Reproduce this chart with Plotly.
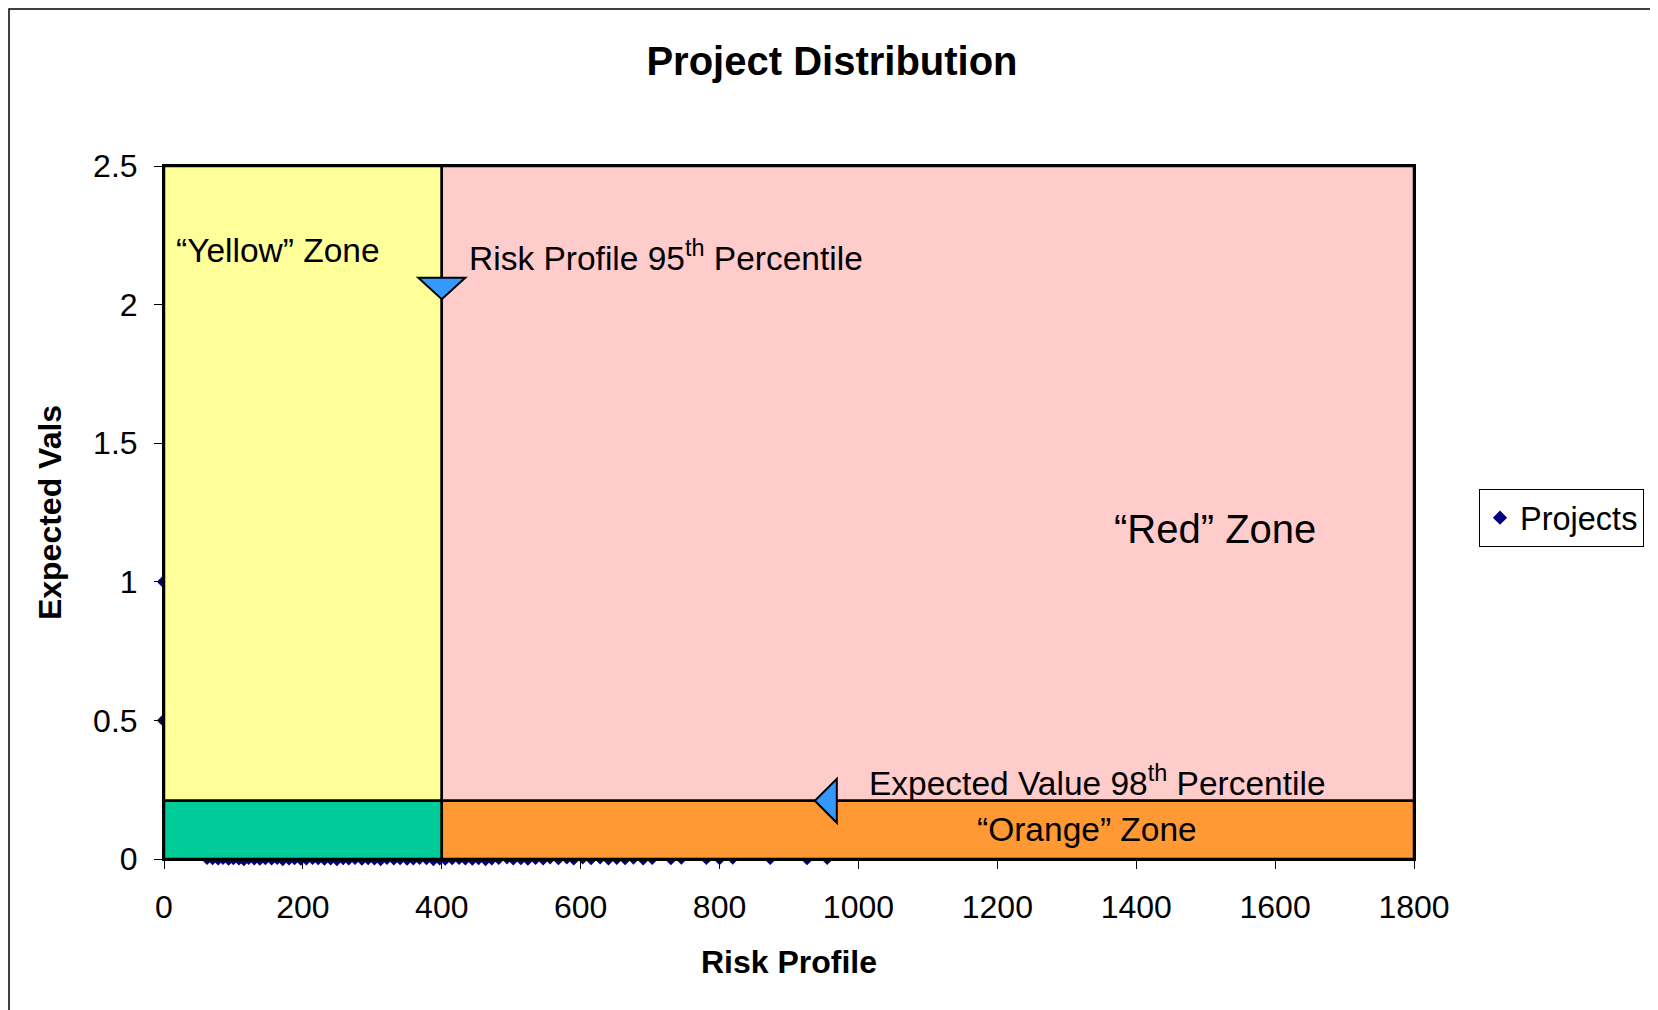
import plotly.graph_objects as go

# ---- data ----
proj_x = [0, 0,
          62, 70, 78, 85, 93, 100, 108, 115, 122, 130, 138, 146, 155, 163, 171, 180, 188, 197,
          205, 214, 222, 231, 240, 249, 258, 266, 275, 285, 294, 303, 312, 321, 331, 340, 350,
          359, 368, 378, 388, 397, 405, 415, 425, 434, 444, 453, 463, 472, 482, 494, 503, 514,
          524, 535, 546, 556, 568, 580, 590, 603, 615, 628, 640, 652, 664, 676, 690, 703, 730,
          745, 781, 800, 819, 873, 926, 955]
proj_y = [1.0, 0.5,
          0.004, 0.003, 0.002, 0.004, 0.001, 0.003, 0.002, 0.0, 0.004, 0.002, 0.001, 0.003, 0.002, 0.004, 0.0, 0.002, 0.003, 0.001,
          0.002, 0.004, 0.003, 0.001, 0.002, 0.0, 0.003, 0.002, 0.004, 0.001, 0.003, 0.002, 0.0, 0.004, 0.002, 0.003, 0.001,
          0.002, 0.004, 0.003, 0.0, 0.002, 0.001, 0.003, 0.004, 0.002, 0.001, 0.003, 0.0, 0.002, 0.004, 0.006, 0.002, 0.003,
          0.001, 0.004, 0.002, 0.006, 0.003, 0.006, 0.002, 0.006, 0.003, 0.006, 0.002, 0.004, 0.003, 0.005, 0.002, 0.004, 0.003,
          0.005, 0.004, 0.003, 0.005, 0.004, 0.003, 0.004]

risk_p95 = 400          # Risk Profile 95th percentile
ev_p98 = 0.21           # Expected Value 98th percentile
x_max = 1800
y_max = 2.5
x_ticks = [0, 200, 400, 600, 800, 1000, 1200, 1400, 1600, 1800]
y_ticks = [0, 0.5, 1, 1.5, 2, 2.5]
y_tick_labels = ["0", "0.5", "1", "1.5", "2", "2.5"]

# markers of the thresholds
p95_marker_y = 2.058
ev98_marker_x = 953

# ---- layout geometry (pixels) ----
OFF = 8   # page body margin
W, H = 1658, 1010
ML, MR, MT, MB = 164 - OFF, 244 + OFF, 166 - OFF, 151 + OFF
PW, PH = W - ML - MR, H - MT - MB
dx = x_max / PW   # data per px
dy = y_max / PH

FONT = "Liberation Sans, Arial, sans-serif"

fig = go.Figure()
fig.add_trace(go.Scatter(
    x=proj_x, y=proj_y, mode="markers", name="Projects",
    marker=dict(symbol="diamond", size=11, color="#000080"),
    cliponaxis=False,
))

def px2paper_x(px):
    return (px - OFF - ML) / PW
def px2paper_y(py):
    return (H - MB - (py - OFF)) / PH

shapes = []
# outer chart frame
shapes.append(dict(type="rect", xref="paper", yref="paper", layer="below",
                   x0=px2paper_x(9), x1=px2paper_x(1652), y0=px2paper_y(1030), y1=px2paper_y(9),
                   fillcolor="white", line=dict(color="black", width=1.5)))

zl = dict(color="black", width=2.5)
shapes += [
    dict(type="rect", x0=0, x1=risk_p95, y0=ev_p98, y1=y_max, fillcolor="#FFFF99", line=zl, layer="above"),
    dict(type="rect", x0=risk_p95, x1=x_max, y0=ev_p98, y1=y_max, fillcolor="#FFCCCC", line=zl, layer="above"),
    dict(type="rect", x0=0, x1=risk_p95, y0=0, y1=ev_p98, fillcolor="#00CC99", line=zl, layer="above"),
    dict(type="rect", x0=risk_p95, x1=x_max, y0=0, y1=ev_p98, fillcolor="#FF9933", line=zl, layer="above"),
]
# down triangle marker on vertical threshold
hw, hh = 23.5 * dx, 10.7 * dy
shapes.append(dict(type="path", layer="above",
                   path=f"M {risk_p95-hw},{p95_marker_y+hh} L {risk_p95+hw},{p95_marker_y+hh} L {risk_p95},{p95_marker_y-hh} Z",
                   fillcolor="#3399FF", line=dict(color="black", width=2)))
# left triangle marker on horizontal threshold
lw, lh = 22 * dx, 22 * dy
shapes.append(dict(type="path", layer="above",
                   path=f"M {ev98_marker_x-lw/2},{ev_p98} L {ev98_marker_x+lw/2},{ev_p98+lh} L {ev98_marker_x+lw/2},{ev_p98-lh} Z",
                   fillcolor="#3399FF", line=dict(color="black", width=2)))

ann_font = dict(family=FONT, size=33.5, color="black")
annotations = [
    dict(x=15, y=2.195, text="“Yellow” Zone", showarrow=False, xanchor="left", font=ann_font),
    dict(x=436, y=2.175, text="Risk Profile 95<sup>th</sup> Percentile", showarrow=False, xanchor="left", font=ann_font),
    dict(x=1513, y=1.19, text="“Red” Zone", showarrow=False, xanchor="center", font=dict(family=FONT, size=40, color="black")),
    dict(x=1012, y=0.28, text="Expected Value 98<sup>th</sup> Percentile", showarrow=False, xanchor="left", font=ann_font),
    dict(x=1329, y=0.105, text="“Orange” Zone", showarrow=False, xanchor="center", font=ann_font),
]

fig.update_layout(
    width=W, height=H,
    margin=dict(l=ML, r=MR, t=MT, b=MB),
    paper_bgcolor="white",
    plot_bgcolor="white",
    font=dict(family=FONT, color="black"),
    title=dict(text="<b>Project Distribution</b>", x=(832 - OFF) / W, xanchor="center",
               y=1 - (61 - OFF) / H, yanchor="middle", font=dict(family=FONT, size=40, color="black")),
    shapes=shapes,
    annotations=annotations,
    showlegend=True,
    legend=dict(x=px2paper_x(1479), y=px2paper_y(489), xanchor="left", yanchor="top",
                bordercolor="black", borderwidth=1, bgcolor="white",
                font=dict(family=FONT, size=32.5, color="black")),
    xaxis=dict(range=[0, x_max], tickvals=x_ticks, ticks="outside", ticklen=8, tickcolor="black",
               showgrid=False, zeroline=False, showline=True, linecolor="black", linewidth=2, mirror=True,
               tickfont=dict(family=FONT, size=32, color="black"), ticklabelstandoff=11,
               title=dict(text="<b>Risk Profile</b>", font=dict(family=FONT, size=32, color="black"), standoff=26)),
    yaxis=dict(range=[0, y_max], tickvals=y_ticks, ticktext=y_tick_labels, ticks="outside", ticklen=8,
               tickcolor="black", showgrid=False, zeroline=False, showline=True, linecolor="black",
               linewidth=2, mirror=True,
               tickfont=dict(family=FONT, size=32, color="black"), ticklabelstandoff=10,
               title=dict(text="<b>Expected Vals</b>", font=dict(family=FONT, size=32, color="black"), standoff=22)),
)

fig.write_html("out.html")
